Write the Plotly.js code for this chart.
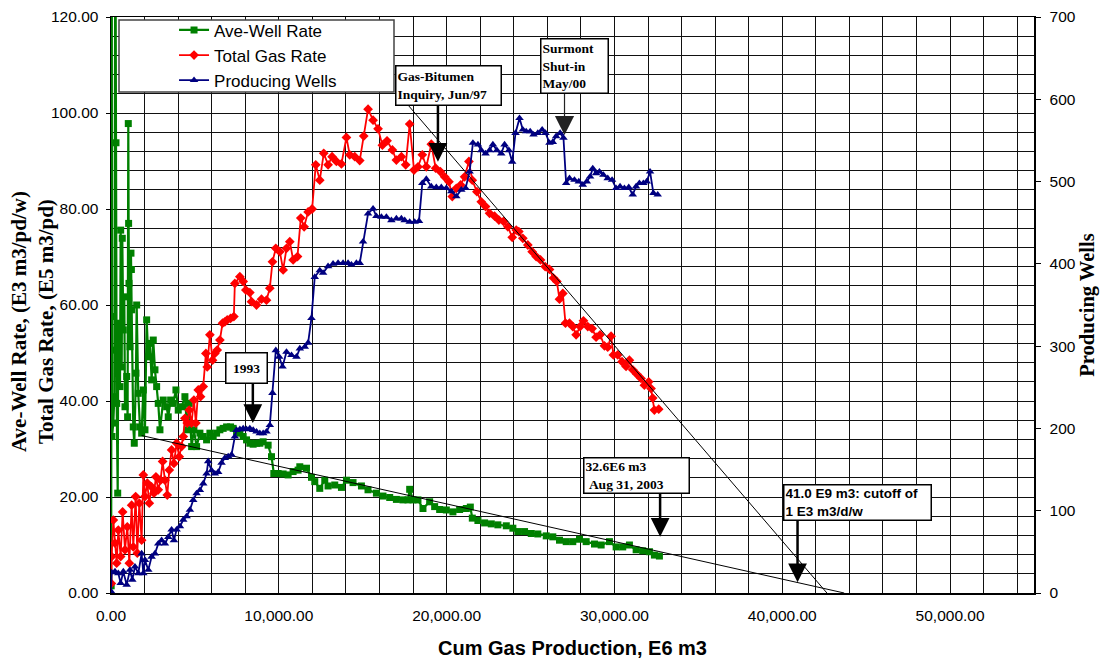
<!DOCTYPE html>
<html>
<head>
<meta charset="utf-8">
<script src="https://cdn.plot.ly/plotly-3.0.1.min.js"></script>
<style>html,body{margin:0;padding:0;background:#fff;}#chart{width:1102px;height:660px;}</style>
</head>
<body>
<div id="chart"></div>
<script>
// ---- Data ----
const cumGasAve = [10,25,45,60,137,200,260,298,320,339,400,434,536,577,637,673,732,792,833,935,990,1030,1050,1071,1131,1190,1215,1232,1327,1387,1488,1530,1625,1726,1827,1923,2024,2125,2220,2321,2423,2518,2619,2720,2815,2917,3113,3315,3411,3553,3708,3869,4006,4208,4405,4542,4661,4804,4940,5101,5298,5494,5696,5893,6089,6292,6488,6685,6887,7125,7280,7482,7679,7875,8077,8274,8470,8673,8869,9065,9363,9565,9702,9958,10256,10554,10851,11149,11250,11649,11946,12143,12440,12738,12934,13333,13732,14030,14422,14923,15315,15815,16208,16607,17006,17398,17696,17798,17994,18292,18589,18988,19286,19583,19982,20375,20774,21173,21411,21530,21863,22262,22661,23054,23554,23946,24244,24643,25042,25434,25934,26327,26726,27125,27518,27917,28315,28810,29208,29702,30101,30494,30893,31292,31684,32083,32381,32679];
const aveWellRate = [1.5,57.6,150,32.6,35.4,40.9,150,93.8,50.6,39.5,20.8,56.2,43.0,75.6,47.1,73.9,54.8,61.7,38.8,45.1,36.7,97.8,77.0,64.5,51.3,70.8,67.4,59.0,34.6,31.2,45.8,60.0,41.6,34.6,33.3,42.3,34.0,56.9,49.2,52.0,44.4,52.7,46.5,43.0,39.5,34.0,40.2,38.8,36.7,40.2,39.5,42.3,38.1,38.8,40.9,34.0,39.5,30.5,34.0,30.5,33.3,32.6,31.9,33.3,32.6,33.3,34.0,34.3,34.6,34.6,34.3,33.6,33.3,32.6,31.9,31.2,31.0,31.2,31.2,31.5,30.8,28.4,24.9,24.9,24.8,24.6,25.3,25.6,26.3,26.0,24.1,23.2,21.8,23.5,22.3,22.5,22.0,23.5,23.0,22.3,21.5,20.8,20.2,19.9,19.5,19.4,19.4,21.6,19.4,19.4,17.6,19.0,18.0,17.4,17.3,16.9,17.4,17.6,17.9,15.6,15.1,14.6,14.4,14.2,14.0,13.5,12.8,12.8,12.4,12.3,11.9,11.7,11.0,10.7,10.7,11.2,10.7,10.2,10.0,10.7,9.6,9.6,10.0,9.0,8.8,8.6,7.9,7.7];

const cumGasTotal = [20,40,139,238,337,436,575,694,833,972,1091,1230,1329,1468,1567,1686,1825,1925,2024,2162,2281,2420,2559,2678,2817,2956,3075,3214,3353,3472,3611,3750,3909,4067,4206,4305,4404,4543,4662,4801,4940,5059,5198,5337,5495,5654,5734,5892,6051,6190,6329,6488,6646,6785,6924,7123,7321,7380,7678,7877,8035,8273,8372,8670,8968,9265,9464,9622,9821,10060,10258,10457,10655,10854,11112,11309,11508,11746,11984,12201,12440,12678,12936,13174,13432,13730,14028,14226,14524,14822,15060,15318,15616,15913,16171,16449,16767,17005,17303,17560,17798,18056,18294,18551,18789,19087,19345,19624,19880,20136,20336,20576,20834,21070,21328,21527,21804,22063,22320,22558,22856,23114,23392,23650,23908,24147,24302,24541,24838,25097,25335,25594,25871,26129,26368,26565,26724,26922,27082,27320,27518,27716,27954,28153,28410,28668,28906,29145,29403,29600,29799,29938,30196,30454,30692,30891,31089,31327,31585,31783,32041,32180,32279,32379,32637];
const totalGasRate = [2.0,7.6,15.2,10.4,6.2,13.1,7.6,16.9,9.0,13.8,6.2,18.3,9.6,20.1,8.3,18.7,11.0,24.6,20.1,22.9,18.7,22.1,20.8,24.2,21.5,23.5,27.4,23.5,20.4,25.6,29.8,27.0,31.2,28.4,30.5,32.6,36.4,35.4,38.1,35.4,40.2,35.4,42.3,40.9,43.0,49.9,47.1,53.8,48.5,49.9,50.6,52.7,56.2,56.5,56.9,57.2,57.6,64.5,65.9,64.9,63.1,62.6,60.7,60.0,61.2,61.0,63.5,69.0,71.8,71.1,67.3,71.8,73.2,69.4,70.1,78.1,76.3,79.4,80.0,89.2,86.0,91.6,89.2,90.9,89.9,89.4,94.9,91.3,90.9,90.1,95.2,100.8,98.5,96.7,93.3,94.2,92.3,90.2,90.9,89.2,97.7,88.1,88.8,91.3,88.8,93.5,88.5,87.8,86.7,85.7,82.6,84.3,85.0,86.7,89.9,86.0,83.6,81.5,80.5,79.1,78.5,77.7,77.4,76.3,74.1,75.6,75.3,73.9,72.5,71.1,70.1,69.4,68.0,67.4,65.6,64.9,61.2,62.4,56.2,56.2,55.5,53.8,55.5,56.7,55.5,55.1,53.3,53.8,51.5,51.2,53.5,49.6,49.6,48.2,47.2,48.5,46.5,45.6,44.7,43.3,44.0,42.6,40.6,38.1,38.3];

const cumGasWells = [0,40,238,436,575,734,933,1131,1270,1428,1627,1825,1925,2024,2222,2420,2619,2817,3016,3214,3412,3611,3750,3909,4107,4305,4504,4702,4900,5099,5297,5495,5694,5793,5992,6190,6388,6587,6785,6984,7182,7380,7480,7678,7877,8075,8273,8472,8670,8868,9067,9265,9464,9622,9821,10020,10219,10457,10755,11052,11250,11547,11746,11944,12142,12440,12638,12936,13234,13532,13829,14127,14326,14623,14822,15020,15318,15616,15814,16112,16410,16707,17005,17303,17500,17798,18095,18353,18551,18789,19087,19385,19683,19980,20278,20576,20874,21130,21368,21567,21864,22063,22320,22558,22757,22995,23253,23451,23709,23907,24105,24343,24541,24740,24978,25176,25434,25692,25891,26129,26327,26525,26764,26962,27121,27320,27617,27875,28113,28351,28549,28708,28906,29105,29343,29600,29858,30097,30335,30593,30851,31089,31288,31486,31724,31922,32121,32320,32577];
const producingWells = [2,25,26,24,12,26,10,28,16,32,24,48,24,40,28,44,48,60,64,60,68,77,64,77,81,89,93,101,113,121,125,133,145,160,149,145,147,158,164,166,168,190,198,199,200,199,200,198,196,194,194,196,204,243,295,287,275,293,289,287,297,299,304,334,384,392,389,397,400,401,401,401,399,401,401,427,461,467,458,457,457,453,455,455,453,451,451,452,498,503,494,493,493,492,488,482,490,492,512,547,545,538,534,538,545,538,534,545,538,524,559,577,563,561,561,557,559,563,559,547,548,555,559,553,498,504,502,500,496,500,506,516,510,512,508,504,502,492,494,492,493,484,494,498,498,500,512,486,484];

// Trend lines (data units)
const totalTrendX = [17370, 42660];
const totalTrendY = [103, 0];
const aveTrendX = [1827, 43690];
const aveTrendY = [32.8, 0];

// Annotation labels
const noteTexts = ['<b>1993</b>', '<b>Gas-Bitumen<br>Inquiry, Jun/97</b>', '<b>Surmont<br>Shut-in<br>May/00</b>', '<b>32.6E6 m3<br>&nbsp;Aug 31, 2003</b>', '<b>41.0 E9 m3: cutoff of<br>1 E3 m3/d/w</b>'];
const arrowTipX = [8452, 19482, 27024, 32720, 40910];
const arrowTipY = [35.4, 89.85, 95.4, 11.73, 2.23];
const boxLeftX = [6786, 16905, 25577, 28112, 40016];
const boxTopY = [50.21, 110.0, 115.6, 28.4, 22.65];

const SANS = 'Liberation Sans, Arial, sans-serif';
const SERIF = 'Liberation Serif, Times New Roman, serif';

const traces = [
  {x: cumGasAve, y: aveWellRate, name: 'Ave-Well Rate', mode: 'lines+markers', type: 'scatter',
   line: {color: '#008000', width: 2.2}, marker: {symbol: 'square', size: 7, color: '#008000'}},
  {x: cumGasTotal, y: totalGasRate, name: 'Total Gas Rate', mode: 'lines+markers', type: 'scatter',
   line: {color: '#ff0000', width: 1.8}, marker: {symbol: 'diamond', size: 7.5, color: '#ff0000'}},
  {x: cumGasWells, y: producingWells, name: 'Producing Wells', yaxis: 'y2', mode: 'lines+markers', type: 'scatter',
   line: {color: '#000080', width: 1.8}, marker: {symbol: 'triangle-up', size: 7.5, color: '#000080'}},
  {x: totalTrendX, y: totalTrendY, mode: 'lines', type: 'scatter', showlegend: false, hoverinfo: 'skip',
   line: {color: '#000', width: 1}},
  {x: aveTrendX, y: aveTrendY, mode: 'lines', type: 'scatter', showlegend: false, hoverinfo: 'skip',
   line: {color: '#000', width: 1}}
];

const annotations = [];
const arrowTail = [-45, -62, -48, -52, -68];
const arrowW = [2.5, 2.5, 1.2, 2.5, 2.5];
const arrowS = [1.5, 1.5, 3.2, 1.5, 1.5];
const arrowC = ['#000', '#000', '#222', '#000', '#000'];
for (let i = 0; i < arrowTipX.length; i++) {
  annotations.push({x: arrowTipX[i], y: arrowTipY[i], xref: 'x', yref: 'y', text: ' ', font: {size: 1},
    showarrow: true, arrowhead: 2, arrowsize: arrowS[i], arrowwidth: arrowW[i], arrowcolor: arrowC[i],
    ax: 0, ay: arrowTail[i], standoff: 0, startstandoff: 0});
}
const boxW = [38, 102, 64, 102, 144];
const boxH = [27, 36, 51, 32, 32];
const boxAlign = ['center', 'left', 'left', 'left', 'left'];
const boxFont = [SERIF, SERIF, SERIF, SERIF, SANS];
const boxSize = [13.5, 13.5, 13.5, 13.5, 13.5];
for (let i = 0; i < noteTexts.length; i++) {
  annotations.push({x: boxLeftX[i], y: boxTopY[i], xref: 'x', yref: 'y', xanchor: 'left', yanchor: 'top',
    text: noteTexts[i], showarrow: false, bgcolor: '#fff', bordercolor: '#000', borderwidth: 1.5, borderpad: 1,
    width: boxW[i], height: boxH[i], align: boxAlign[i], valign: 'middle',
    font: {family: boxFont[i], size: boxSize[i], color: '#000'}});
}
// Left axis title (two lines)
annotations.push({xref: 'paper', yref: 'paper', x: -0.0856, y: 0.4722, xanchor: 'center', yanchor: 'middle',
  textangle: -90, showarrow: false,
  text: '<b>Ave-Well Rate, (E3 m3/pd/w)</b><br><b>Total Gas Rate, (E5 m3/pd)</b>',
  font: {family: SERIF, size: 21, color: '#000'}});

const gridC = '#111';
const layout = {
  width: 1102, height: 660,
  margin: {l: 111, r: 68, t: 17, b: 67},
  paper_bgcolor: '#fff', plot_bgcolor: '#fff',
  showlegend: true,
  legend: {x: 0.0683, y: 1.008, xanchor: 'left', yanchor: 'top', bgcolor: 'rgba(0,0,0,0)', borderwidth: 0,
    font: {family: SANS, size: 17, color: '#000'}, traceorder: 'normal', itemwidth: 30},
  xaxis: {range: [0, 55000], tick0: 0, dtick: 10000, tickformat: ',.2f', ticks: '',
    showline: true, linecolor: '#000', linewidth: 1.5, mirror: true, zeroline: false,
    showgrid: true, gridcolor: gridC, gridwidth: 1,
    minor: {dtick: 2000, showgrid: true, gridcolor: gridC, gridwidth: 1},
    tickfont: {family: SANS, size: 15.5, color: '#000'}, ticklabelstandoff: 8,
    title: {text: '<b>Cum Gas Production, E6 m3</b>', font: {family: SANS, size: 20, color: '#000'}, standoff: 18}},
  yaxis: {range: [0, 120], tick0: 0, dtick: 20, tickformat: '.2f', ticks: 'outside', ticklen: 4, tickcolor: '#000',
    showline: true, linecolor: '#000', linewidth: 1.5, zeroline: false,
    showgrid: true, gridcolor: gridC, gridwidth: 1,
    minor: {dtick: 4, showgrid: true, gridcolor: gridC, gridwidth: 1},
    tickfont: {family: SANS, size: 15.5, color: '#000'}, ticklabelstandoff: 4},
  yaxis2: {overlaying: 'y', side: 'right', range: [0, 700], tick0: 0, dtick: 100, ticks: 'outside', ticklen: 5,
    tickcolor: '#000', showline: true, linecolor: '#000', linewidth: 1.5, showgrid: false, zeroline: false,
    tickfont: {family: SANS, size: 15.5, color: '#000'}, ticklabelstandoff: 6,
    title: {text: '<b>Producing Wells</b>', font: {family: SERIF, size: 20.5, color: '#000'}, standoff: 1}},
  shapes: [{type: 'rect', xref: 'paper', yref: 'paper', x0: 0.00867, x1: 0.30661, y0: 0.86979, y1: 0.99479,
    fillcolor: '#fff', line: {color: '#444', width: 1.5}, layer: 'above'}],
  annotations: annotations
};

Plotly.newPlot('chart', traces, layout, {displayModeBar: false, staticPlot: true});
</script>
</body>
</html>
